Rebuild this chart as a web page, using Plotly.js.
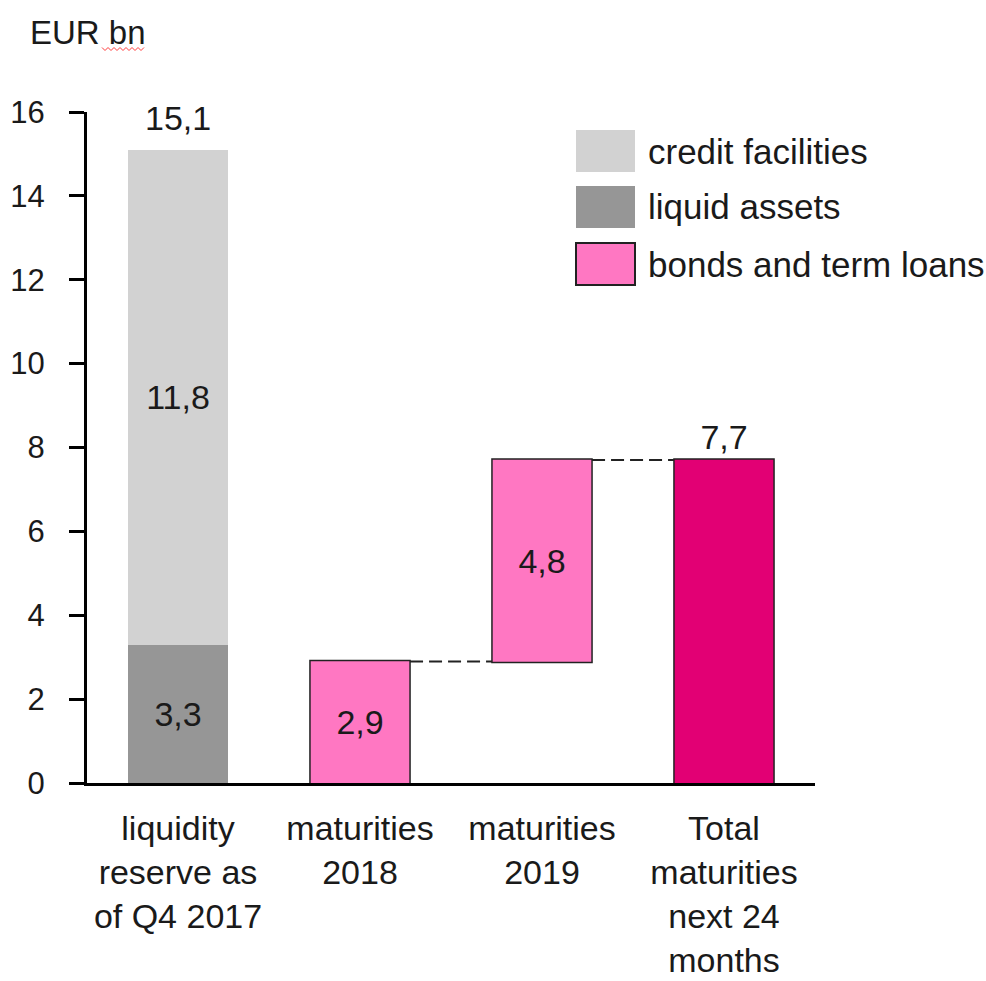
<!DOCTYPE html>
<html>
<head>
<meta charset="utf-8">
<script src="https://cdn.plot.ly/plotly-3.0.1.min.js"></script>
<style>
  html, body { margin: 0; padding: 0; background: #ffffff; }
  #chart { width: 986px; height: 981px; }
</style>
</head>
<body>
<div id="chart"></div>
<script>
// ---- data ----
const categories = [
  'liquidity<br>reserve as<br>of Q4 2017',
  'maturities<br>2018',
  'maturities<br>2019',
  'Total<br>maturities<br>next 24<br>months'
];
const liquidAssets = [3.3];          // liquidity reserve, lower segment
const creditFacilities = [11.8];     // liquidity reserve, upper segment
const maturityValues = [2.9, 4.8];   // bonds and term loans maturing 2018, 2019
const totalMaturities = 7.7;         // total maturities next 24 months
const seriesNames = ['credit facilities', 'liquid assets', 'bonds and term loans'];
const unitLabel = 'EUR bn';

// ---- styling ----
const FONT = 'Liberation Sans, Arial, Helvetica, sans-serif';
const TXT = '#1a1a1a';
const COL_CREDIT = '#d2d2d2';
const COL_LIQUID = '#969696';
const COL_BONDS = '#ff77c2';
const COL_TOTAL = '#e20074';
const EDGE = '#222222';

const fmt = v => v.toFixed(1).replace('.', ',');

// plot area in pixels (for placing legend / unit label in paper coords)
const W = 986, H = 981;
const M = { l: 87, r: 171, t: 112, b: 198 };
const PW = W - M.l - M.r, PH = H - M.t - M.b;
const px = x => (x - M.l) / PW;
const py = y => (H - M.b - y) / PH;

const reserveTotal = liquidAssets[0] + creditFacilities[0];

const traces = [
  {
    type: 'bar',
    name: seriesNames[1],
    x: [categories[0]],
    y: liquidAssets,
    marker: { color: COL_LIQUID, line: { width: 0 } },
    text: liquidAssets.map(fmt),
    textposition: 'inside',
    insidetextanchor: 'middle',
    textangle: 0,
    constraintext: 'none',
    textfont: { family: FONT, size: 34, color: TXT },
    hoverinfo: 'skip',
    showlegend: false
  },
  {
    type: 'bar',
    name: seriesNames[0],
    x: [categories[0]],
    y: creditFacilities,
    marker: { color: COL_CREDIT, line: { width: 0 } },
    text: creditFacilities.map(fmt),
    textposition: 'inside',
    insidetextanchor: 'middle',
    textangle: 0,
    constraintext: 'none',
    textfont: { family: FONT, size: 34, color: TXT },
    hoverinfo: 'skip',
    showlegend: false
  },
  {
    type: 'waterfall',
    name: seriesNames[2],
    x: categories.slice(1),
    y: maturityValues.concat([totalMaturities]),
    measure: ['relative', 'relative', 'total'],
    text: maturityValues.map(fmt).concat([fmt(totalMaturities)]),
    textinfo: 'text',
    textposition: ['inside', 'inside', 'outside'],
    insidetextanchor: 'middle',
    textangle: 0,
    constraintext: 'none',
    cliponaxis: false,
    textfont: { family: FONT, size: 34, color: TXT },
    increasing: { marker: { color: COL_BONDS, line: { color: EDGE, width: 1.5 } } },
    decreasing: { marker: { color: COL_BONDS, line: { color: EDGE, width: 1.5 } } },
    totals: { marker: { color: COL_TOTAL, line: { color: EDGE, width: 1.5 } } },
    connector: { mode: 'between', line: { color: EDGE, width: 2, dash: '13px,6px' } },
    hoverinfo: 'skip',
    showlegend: false
  }
];

// custom legend (boxes + labels) to the right, near top
const legendBoxes = [
  { y0: 130, y1: 172, color: COL_CREDIT, line: 0 },
  { y0: 186, y1: 228, color: COL_LIQUID, line: 0 },
  { y0: 243, y1: 285, color: COL_BONDS, line: 2 }
];
const shapes = legendBoxes.map(b => ({
  type: 'rect', xref: 'paper', yref: 'paper',
  x0: px(576), x1: px(635), y0: py(b.y1), y1: py(b.y0),
  fillcolor: b.color,
  line: { color: b.line ? EDGE : b.color, width: b.line }
}));

// wavy spell-check underline under "bn"
let wave = '';
for (let i = 0; i <= 14; i++) {
  const xx = 102 + i * 3;
  const yy = (i % 2 === 0) ? 47.5 : 50.5;
  wave += (i === 0 ? 'M' : 'L') + px(xx) + ',' + py(yy) + ' ';
}
shapes.push({ type: 'path', xref: 'paper', yref: 'paper', path: wave,
  line: { color: '#ff3b3b', width: 1 } });

const annotations = [
  { xref: 'paper', yref: 'paper', x: px(28), y: py(33), xanchor: 'left', yanchor: 'middle',
    text: unitLabel, showarrow: false, font: { family: FONT, size: 33, color: TXT } },
  { xref: 'x', yref: 'y', x: categories[0], y: reserveTotal, xanchor: 'center', yanchor: 'bottom',
    yshift: 11, text: fmt(reserveTotal), showarrow: false, font: { family: FONT, size: 34, color: TXT } }
];
const legendTextY = [151, 207, 264];
seriesNames.forEach((n, i) => annotations.push({
  xref: 'paper', yref: 'paper', x: px(646), y: py(legendTextY[i]), xanchor: 'left', yanchor: 'middle',
  text: n, showarrow: false, font: { family: FONT, size: 35, color: TXT }
}));

const layout = {
  width: W, height: H,
  margin: M,
  paper_bgcolor: '#ffffff',
  plot_bgcolor: '#ffffff',
  separators: ', ',
  barmode: 'stack',
  bargap: 0.45,
  waterfallgap: 0.45,
  showlegend: false,
  font: { family: FONT, color: TXT },
  xaxis: {
    type: 'category',
    categoryorder: 'array',
    categoryarray: categories,
    range: [-0.5, 3.5],
    showline: true, linecolor: '#000000', linewidth: 3,
    ticks: '', showgrid: false, zeroline: false,
    ticklabelstandoff: 13,
    tickfont: { family: FONT, size: 34, color: TXT },
    fixedrange: true
  },
  yaxis: {
    range: [0, 16],
    dtick: 2, tick0: 0,
    showline: true, linecolor: '#000000', linewidth: 3,
    ticks: 'outside', ticklen: 15, tickwidth: 3, tickcolor: '#000000',
    ticklabelstandoff: 18,
    showgrid: false, zeroline: false,
    tickfont: { family: FONT, size: 31, color: TXT },
    fixedrange: true
  },
  shapes: shapes,
  annotations: annotations
};

Plotly.newPlot('chart', traces, layout, { displayModeBar: false, staticPlot: true });
</script>
</body>
</html>
